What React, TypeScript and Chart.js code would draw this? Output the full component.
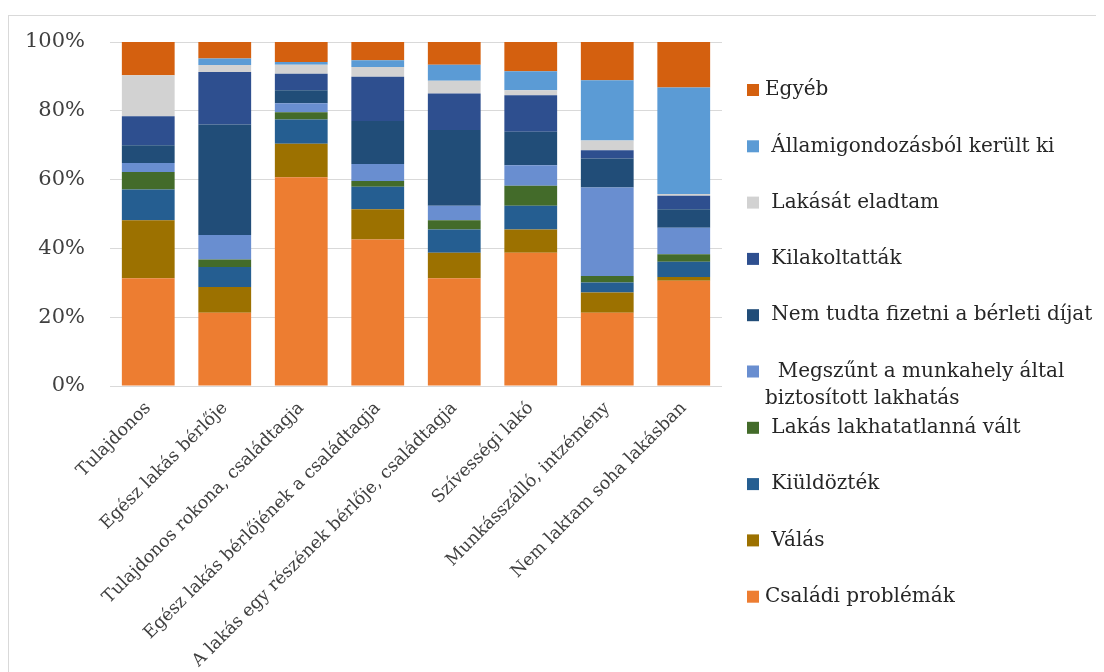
import React, { useEffect, useRef } from "react";
import { Chart, registerables } from "chart.js";

Chart.register(...registerables);

const categories = [
  "Tulajdonos",
  "Egész lakás bérlője",
  "Tulajdonos rokona, családtagja",
  "Egész lakás bérlőjének a családtagja",
  "A lakás egy részének bérlője, családtagja",
  "Szívességi lakó",
  "Munkásszálló, intzémény",
  "Nem laktam soha lakásban",
];

const seriesNames = [
  "Családi problémák",
  "Válás",
  "Kiüldözték",
  "Lakás lakhatatlanná vált",
  "Megszűnt a munkahely által biztosított lakhatás",
  "Nem tudta fizetni a bérleti díjat",
  "Kilakoltatták",
  "Lakását eladtam",
  "Államigondozásból került ki",
  "Egyéb",
];

// legend text as it appears (top to bottom), incl. leading spaces and wrapping
const legendLines = [
  ["Egyéb"],
  [" Államigondozásból került ki"],
  [" Lakását eladtam"],
  [" Kilakoltatták"],
  [" Nem tudta fizetni a bérleti díjat"],
  ["  Megszűnt a munkahely által", "biztosított lakhatás"],
  [" Lakás lakhatatlanná vált"],
  [" Kiüldözték"],
  [" Válás"],
  ["Családi problémák"],
];

const csaladi = [31.3, 21.3, 60.7, 42.6, 31.3, 38.7, 21.3, 30.6];
const valas = [16.9, 7.5, 9.7, 8.8, 7.4, 6.8, 5.9, 1.1];
const kiuldoztek = [8.9, 5.8, 7.1, 6.5, 6.8, 6.9, 2.9, 4.4];
const lakhatatlan = [5.1, 2.2, 2.1, 1.7, 2.7, 5.8, 1.9, 2.2];
const megszunt = [2.6, 7.1, 2.6, 4.9, 4.2, 6.0, 25.7, 7.7];
const nemTudta = [5.2, 32.1, 3.8, 12.5, 22.0, 9.7, 8.4, 5.4];
const kilakoltattak = [8.4, 15.3, 4.8, 12.9, 10.6, 10.6, 2.4, 3.9];
const eladtam = [11.9, 2.0, 2.6, 2.8, 3.7, 1.5, 2.9, 0.5];
const allami = [0, 1.9, 0.8, 2.0, 4.7, 5.5, 17.5, 31.0];
const egyeb = [9.7, 4.8, 5.8, 5.3, 6.6, 8.5, 11.1, 13.2];

const seriesValues = [
  csaladi,
  valas,
  kiuldoztek,
  lakhatatlan,
  megszunt,
  nemTudta,
  kilakoltattak,
  eladtam,
  allami,
  egyeb,
];

const seriesColors = [
  "#ED7D31",
  "#9C7100",
  "#255E91",
  "#436B2A",
  "#698ED0",
  "#214D78",
  "#2E4F8F",
  "#D2D2D2",
  "#5B9BD5",
  "#D4600F",
];

const yTicks = [0, 20, 40, 60, 80, 100];

const FONT = '"DejaVu Serif", serif';

const W = 1095;
const H = 656;
const PLOT_LEFT = 101;
const PLOT_RIGHT = 713;
const PAD_TOP = 26;
const PLOT_BOTTOM = 370;

const legendPlugin = {
  id: "customLegend",
  afterDraw(chart: any) {
    const ctx = chart.ctx;
    const n = chart.data.datasets.length;
    ctx.save();
    ctx.font = `20px ${FONT}`;
    ctx.textBaseline = "middle";
    ctx.textAlign = "left";
    for (let i = 0; i < n; i++) {
      const ds = chart.data.datasets[n - 1 - i];
      const cy = 74 + i * 56.3;
      ctx.fillStyle = ds.backgroundColor;
      ctx.fillRect(738, cy - 6, 12, 12);
      ctx.fillStyle = "#262626";
      const lines = legendLines[i];
      lines.forEach((t: string, k: number) => {
        ctx.fillText(t, 756, cy + k * 27);
      });
    }
    ctx.restore();
  },
};

export default function App() {
  const ref = useRef<HTMLCanvasElement>(null);

  useEffect(() => {
    if (!ref.current) return;
    const chart = new Chart(ref.current, {
      type: "bar",
      data: {
        labels: categories,
        datasets: seriesNames.map((name, i) => ({
          label: name,
          data: seriesValues[i],
          backgroundColor: seriesColors[i],
          borderWidth: 0,
          barPercentage: 0.69,
          categoryPercentage: 1,
        })),
      },
      options: {
        responsive: true,
        maintainAspectRatio: false,
        animation: false,
        layout: {
          padding: { left: 0, right: W - PLOT_RIGHT, top: PAD_TOP, bottom: 0 },
        },
        plugins: {
          legend: { display: false },
          tooltip: { enabled: false },
        },
        scales: {
          x: {
            stacked: true,
            grid: { display: false },
            border: { display: false },
            ticks: {
              autoSkip: false,
              minRotation: 45,
              maxRotation: 45,
              padding: 4,
              color: "#404040",
              font: { family: FONT, size: 17.5 },
            },
            afterFit(scale: any) {
              scale.height = H - PLOT_BOTTOM;
            },
          },
          y: {
            stacked: true,
            min: 0,
            max: 100,
            afterBuildTicks(scale: any) {
              scale.ticks = yTicks.map((v) => ({ value: v }));
            },
            grid: {
              color: "#D9D9D9",
              lineWidth: 1,
              drawTicks: true,
              tickLength: 22,
              tickColor: "rgba(0,0,0,0)",
            },
            border: { display: false },
            ticks: {
              padding: 3,
              color: "#404040",
              font: { family: FONT, size: 21 },
              callback: (v: any) => `${v}%`,
            },
            afterFit(scale: any) {
              scale.width = PLOT_LEFT;
            },
          },
        },
      },
      plugins: [legendPlugin],
    });
    return () => chart.destroy();
  }, []);

  return (
    <div
      style={{
        marginTop: 7,
        width: 1095,
        height: 656,
        borderTop: "1px solid #D9D9D9",
        borderLeft: "1px solid #D9D9D9",
        background: "#fff",
      }}
    >
      <div style={{ position: "relative", width: W, height: H }}>
        <canvas ref={ref} />
      </div>
    </div>
  );
}
